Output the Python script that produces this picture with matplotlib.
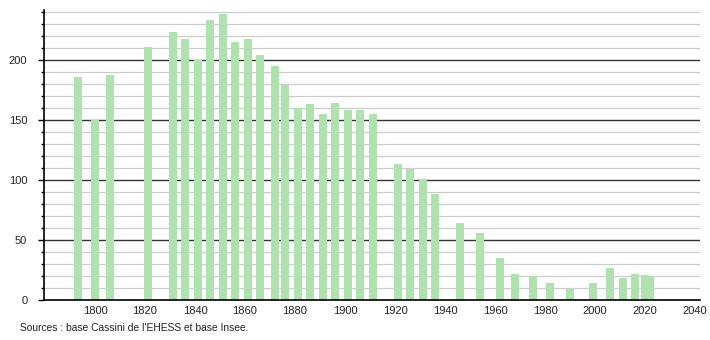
import matplotlib
matplotlib.use("Agg")
import matplotlib.pyplot as plt
from matplotlib.ticker import MultipleLocator

years = [1793, 1800, 1806, 1821, 1831, 1836, 1841, 1846, 1851, 1856, 1861, 1866,
         1872, 1876, 1881, 1886, 1891, 1896, 1901, 1906, 1911, 1921, 1926, 1931,
         1936, 1946, 1954, 1962, 1968, 1975, 1982, 1990, 1999, 2006, 2011, 2016,
         2020, 2022]
population = [186, 150, 187, 211, 223, 217, 200, 233, 238, 215, 217, 204,
              195, 179, 160, 163, 155, 164, 158, 158, 155, 113, 109, 101,
              88, 64, 56, 35, 22, 20, 14, 9, 14, 27, 18, 22,
              21, 20]
x_ticks = [1800, 1820, 1840, 1860, 1880, 1900, 1920, 1940, 1960, 1980, 2000, 2020, 2040]
source = "Sources : base Cassini de l'EHESS et base Insee."

plt.rcParams['font.family'] = ['Liberation Sans', 'DejaVu Sans']

fig = plt.figure(figsize=(7.1, 3.4), dpi=100)
ax = fig.add_axes([44/710, 1-300/340, (700-44)/710, (300-10)/340])

ax.set_xlim(1779.6, 2042)
ax.set_ylim(0, 241.5)

# grid
for v in range(10, 241, 10):
    if v % 50 == 0:
        ax.axhline(v, color='#333333', lw=1.0, zorder=1)
    else:
        ax.axhline(v, color='#cccccc', lw=0.9, zorder=1)

ax.bar(years, population, width=3.2, color='#b0e2b0', zorder=2, linewidth=0)

ax.yaxis.set_major_locator(MultipleLocator(50))
ax.yaxis.set_minor_locator(MultipleLocator(10))
ax.set_xticks(x_ticks)
ax.tick_params(axis='y', which='major', length=4, width=1, pad=8, labelsize=8, colors='#000000', labelcolor='#222222')
ax.tick_params(axis='y', which='minor', length=2, width=1, colors='#000000')
ax.tick_params(axis='x', which='both', length=0, pad=4, labelsize=8, labelcolor='#222222')

for s in ['top', 'right']:
    ax.spines[s].set_visible(False)
ax.spines['left'].set_linewidth(1.2)
ax.spines['bottom'].set_linewidth(1.2)
ax.spines['left'].set_zorder(3)
ax.spines['bottom'].set_zorder(3)

fig.text(20/710, 1-328/340, source, fontsize=7.4, color='#222222', va='center', ha='left')

fig.savefig('out.png', dpi=100)
